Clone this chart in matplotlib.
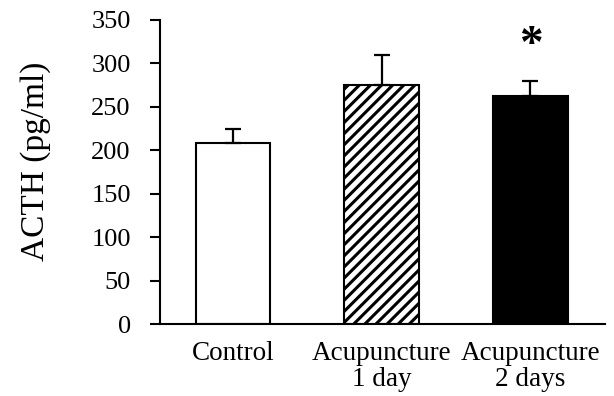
import numpy as np
import matplotlib.pyplot as plt

plt.rcParams['font.family'] = 'Liberation Serif'
plt.rcParams['hatch.linewidth'] = 2.2

groups = ["Control", "Acupuncture\n1 day", "Acupuncture\n2 days"]
acth = [208, 275, 263]
sem = [16, 35, 17]
yticks = [0, 50, 100, 150, 200, 250, 300, 350]

fig = plt.figure(figsize=(6.14, 3.96), dpi=100)
ax = fig.add_axes([0.2606, 0.1818, 0.7244, 0.7677])

x = np.arange(len(groups))
ax.bar(x[0], acth[0], width=0.5, color="white", edgecolor="black", linewidth=1.5)
ax.bar(x[1], acth[1], width=0.5, color="white", edgecolor="black", linewidth=1.5, hatch="///")
ax.bar(x[2], acth[2], width=0.5, color="black", edgecolor="black", linewidth=1.5)
ax.errorbar(x, acth, yerr=[np.zeros(3), sem], fmt="none", ecolor="black",
            elinewidth=1.6, capsize=6, capthick=1.6)

# significance marker
ax.text(x[2], acth[2] + sem[2] + 40, "*", ha="center", va="center",
        fontsize=34, fontweight="bold")

ax.set_ylim(0, 350)
ax.set_xlim(-0.49, 2.5)
ax.set_yticks(yticks)
ax.set_xticks(x)
ax.set_xticklabels(groups, fontsize=19.5, linespacing=1.08)
ax.tick_params(axis="y", labelsize=19, direction="out", length=7, width=1.5, pad=14)
ax.tick_params(axis="x", length=0, pad=12)
ax.set_ylabel("ACTH (pg/ml)", fontsize=24)
ax.yaxis.set_label_coords(-0.245, 0.535)
for s in ["top", "right"]:
    ax.spines[s].set_visible(False)
for s in ["left", "bottom"]:
    ax.spines[s].set_linewidth(1.5)

plt.savefig("out.png", dpi=100)
